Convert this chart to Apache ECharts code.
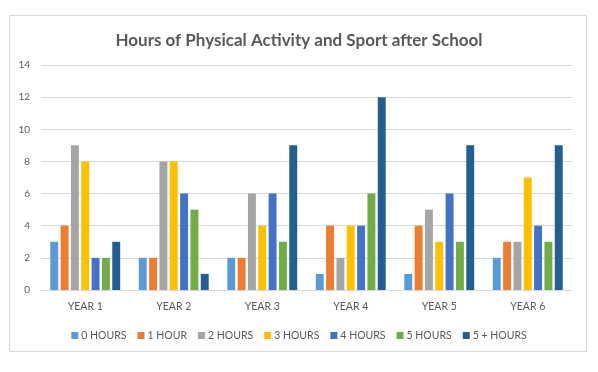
<!DOCTYPE html>
<html><head><meta charset="utf-8">
<script src="https://cdn.jsdelivr.net/npm/echarts@6/dist/echarts.min.js"></script>
<style>html,body{margin:0;padding:0;background:#fff}#c{width:598px;height:372px}</style>
</head><body><div id="c"></div>
<script>
const categories = ["YEAR 1","YEAR 2","YEAR 3","YEAR 4","YEAR 5","YEAR 6"];
const seriesNames = ["0 HOURS","1 HOUR","2 HOURS","3 HOURS","4 HOURS","5 HOURS","5 + HOURS"];
const hours0 = [3,2,2,1,1,2];
const hours1 = [4,2,2,4,4,3];
const hours2 = [9,8,6,2,5,3];
const hours3 = [8,8,4,4,3,7];
const hours4 = [2,6,6,4,6,4];
const hours5 = [2,5,3,6,3,3];
const hours5plus = [3,1,9,12,9,9];
const seriesValues = [hours0,hours1,hours2,hours3,hours4,hours5,hours5plus];
const colors = ["#5B9BD5","#ED7D31","#A5A5A5","#FFC000","#4472C4","#70AD47","#255E91"];

const chart = echarts.init(document.getElementById('c'));
const font = "Lato, Open Sans, sans-serif";
chart.setOption({
  animation:false,
  color:colors,
  graphic:[{type:'rect',shape:{x:9.5,y:15.5,width:577,height:336},style:{fill:'none',stroke:'#D9D9D9',lineWidth:1}}],
  title:{text:"Hours of Physical Activity and Sport after School",left:'center',top:27,
    textStyle:{fontFamily:font,fontSize:17,fontWeight:'bold',color:'#595959'}},
  legend:{top:325,left:'center',itemWidth:7,itemHeight:7,itemGap:11,icon:'rect',
    textStyle:{fontFamily:font,fontSize:10.5,color:'#595959',padding:[0,0,0,-2]},data:seriesNames},
  grid:{left:41,right:26,top:65,bottom:82,containLabel:false},
  xAxis:{type:'category',data:categories,axisTick:{show:false},
    axisLine:{lineStyle:{color:'#D9D9D9'}},
    axisLabel:{fontFamily:font,fontSize:10.5,color:'#595959',margin:11}},
  yAxis:{type:'value',min:0,max:14,interval:2,axisLine:{show:false},axisTick:{show:false},
    splitLine:{lineStyle:{color:'#D9D9D9'}},
    axisLabel:{fontFamily:font,fontSize:10,color:'#595959',margin:11}},
  series:seriesNames.map((n,i)=>({name:n,type:'bar',data:seriesValues[i],barGap:'30%',barCategoryGap:'21%'}))
});
</script></body></html>
